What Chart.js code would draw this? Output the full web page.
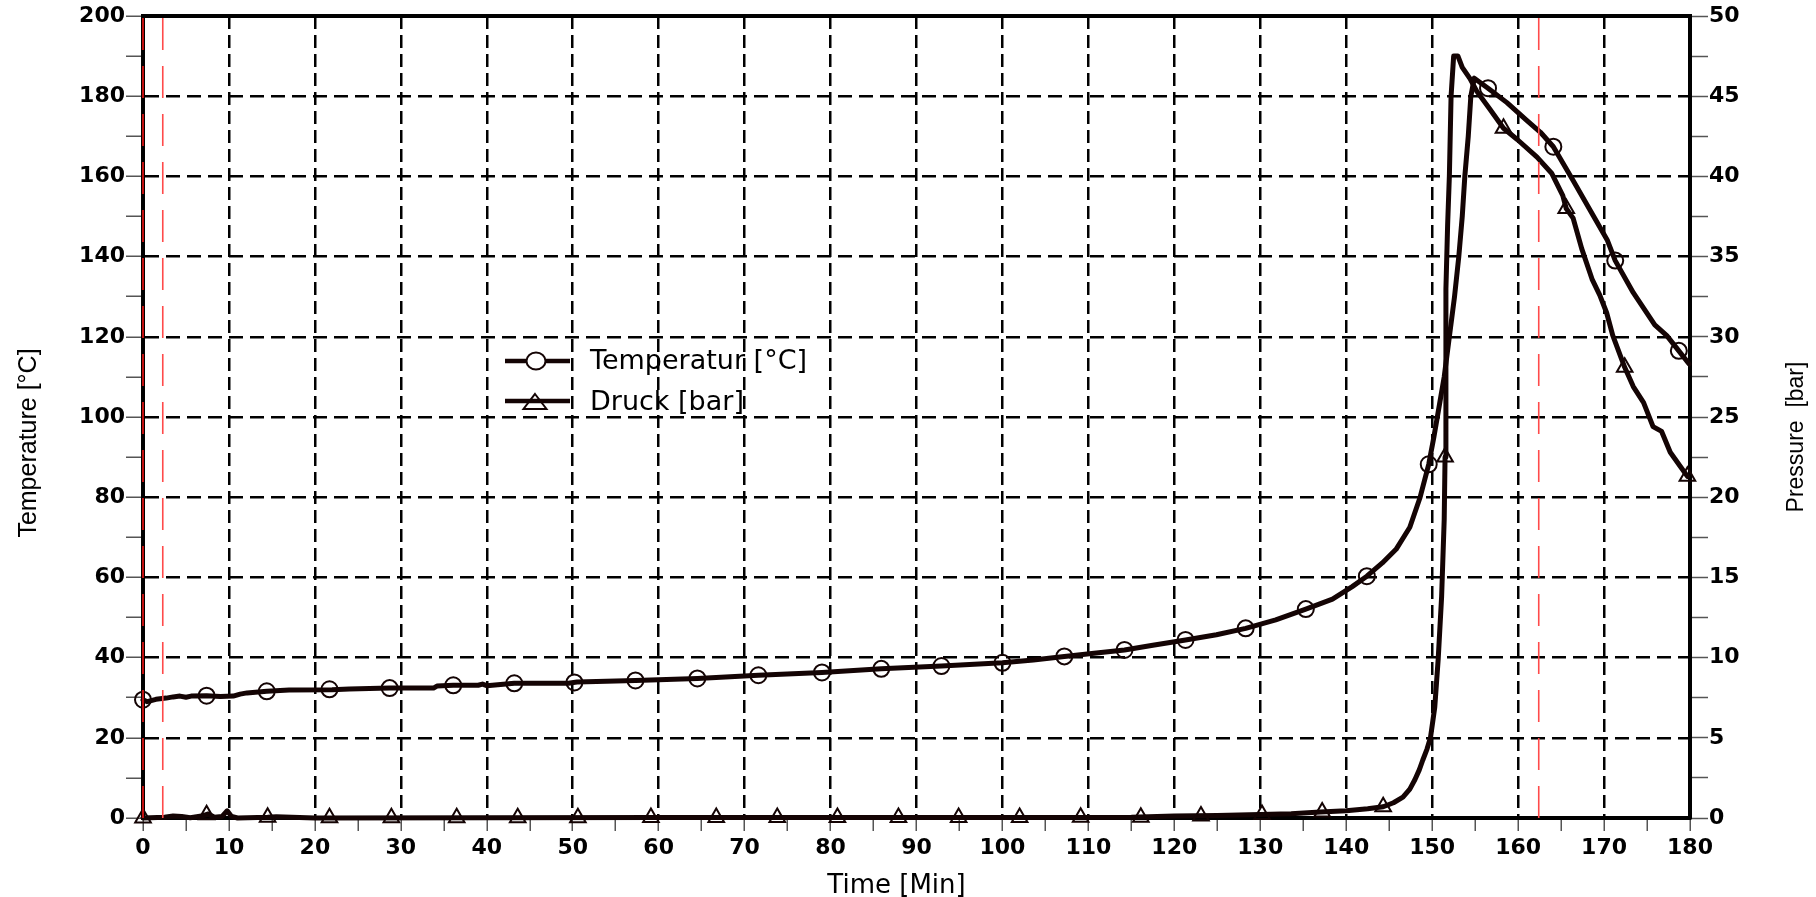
<!DOCTYPE html>
<html><head><meta charset="utf-8">
<script src="https://cdn.jsdelivr.net/npm/chart.js@4.4.1/dist/chart.umd.min.js"></script>
<style>html,body{margin:0;padding:0;background:#fff;}#wrap{position:relative;width:1816px;height:897px;}</style>
</head><body><div id="wrap"><canvas id="c"></canvas></div>
<script>
// ---- data ----
const tempTime = [0,0.5,1.5,2.7,3.5,4.3,5.0,5.6,7.4,9.0,10.5,11.3,12.1,14.4,17,22,24,28.7,33.8,34.2,36.1,39,39.5,40,43.2,49.5,50.5,57.3,64.5,71.6,79.0,85.9,92.9,100,103.6,107.2,111.2,114.2,117.5,121.3,124.9,128.3,131.8,135.3,138.4,140.7,142.4,144.2,145.8,147.4,148.6,149.6,150.2,150.6,151.4,152.0,152.6,153.1,153.5,153.8,154.2,154.5,154.9,156.5,158.7,161.0,162.6,164.1,166.4,168.8,170.4,171.3,173.4,175.9,177.3,178.7,179.9];
const tempValue = [29.5,29.0,29.6,29.9,30.2,30.4,30.1,30.4,30.5,30.3,30.4,30.9,31.2,31.6,31.9,32.0,32.2,32.4,32.4,32.9,33.1,33.1,33.4,33.0,33.6,33.6,33.9,34.3,34.8,35.6,36.3,37.2,37.9,38.7,39.4,40.3,41.2,41.9,43.1,44.4,45.7,47.3,49.4,52.1,54.6,57.7,60.3,63.6,67.0,72.5,80.0,88.2,95,100,110,120,130,140,150,160,170,180,184.5,182,178.4,174,171,167.4,159,150,144,139,131,123,120.3,116.5,113.2];
const tempMarkTime = [0,7.4,14.4,21.7,28.7,36.1,43.2,50.2,57.3,64.5,71.6,79.0,85.9,92.9,100.0,107.2,114.2,121.3,128.3,135.3,142.4,149.6,156.5,164.1,171.3,178.7];
const tempMarkValue = [29.5,30.5,31.6,32.1,32.4,33.1,33.6,33.8,34.3,34.8,35.6,36.3,37.2,37.9,38.7,40.3,41.9,44.4,47.3,52.1,60.3,88.2,182.0,167.4,139.0,116.5];
const presTime = [0,2.5,3.5,4.5,5.5,7.0,7.6,8.3,9.2,9.8,10.3,11,14.5,15.5,20,40,60,80,100,115,120,125,130,133.6,137,140,142.5,144.3,145.5,146.6,147.4,148.0,148.5,148.9,149.4,149.8,150.3,150.7,151.1,151.4,151.5,151.6,151.8,152.0,152.2,152.5,153.0,153.5,154.4,155.2,156.7,158.3,159.9,162.2,163.9,165.2,165.6,166.4,167.4,168.6,169.5,170.3,171.0,172.4,173.4,174.6,175.7,176.7,177.7,178.9,179.7];
const presValue = [0,0.05,0.12,0.1,0.02,0.15,0.25,0.05,0.1,0.45,0.1,0,0.05,0.08,0,0.02,0.03,0.03,0.03,0.05,0.12,0.15,0.22,0.27,0.37,0.45,0.58,0.7,0.95,1.3,1.8,2.4,3.0,3.6,4.3,5.0,6.9,9.9,13.8,18.6,22.5,33,37,40,45,47.5,47.5,46.8,46.1,45.3,44.2,43.0,42.3,41.2,40.2,38.8,38.0,37.4,35.5,33.6,32.6,31.5,30.1,28.1,26.9,25.9,24.4,24.1,22.8,21.9,21.3];
const presMarkTime = [0,7.4,14.5,21.7,28.9,36.5,43.6,50.6,59.1,66.7,73.8,80.8,87.9,94.9,102.0,109.1,116.1,123.1,130.2,137.2,144.3,151.5,158.3,165.6,172.4,179.7];
const presMarkValue = [0,0.2,0.05,0.02,0.02,0.02,0.02,0.02,0.03,0.03,0.03,0.03,0.03,0.03,0.03,0.04,0.05,0.13,0.22,0.37,0.7,22.5,43.0,38.0,28.1,21.3];
const redLineTimes = [0, 2.3, 162.4];
const xLabelTicks = [0,10,20,30,40,50,60,70,80,90,100,110,120,130,140,150,160,170,180];
const tempLabelTicks = [0,20,40,60,80,100,120,140,160,180,200];
const presLabelTicks = [0,5,10,15,20,25,30,35,40,45,50];
const seriesNames = ['Temperatur [°C]', 'Druck [bar]'];
const axisTitles = {x: 'Time [Min]', y: 'Temperature [°C]', y1: 'Pressure  [bar]'};

const zip = (xs, ys) => xs.map((x, i) => ({x, y: ys[i]}));
const INK = '#140404';

const datasets = [
  {data: zip(tempTime, tempValue), yAxisID: 'y', showLine: true, borderColor: INK, borderWidth: 5, pointRadius: 0, borderJoinStyle: 'round', borderCapStyle: 'round', clip: false, order: 2},
  {data: zip(presTime, presValue), yAxisID: 'y1', showLine: true, borderColor: INK, borderWidth: 5, pointRadius: 0, borderJoinStyle: 'round', borderCapStyle: 'round', clip: false, order: 2},
  {data: zip(tempMarkTime, tempMarkValue), yAxisID: 'y', showLine: false, pointStyle: 'circle', pointRadius: 8, pointBorderWidth: 2, pointBorderColor: INK, pointBackgroundColor: 'rgba(0,0,0,0)', clip: false, order: 1},
  {data: zip(presMarkTime, presMarkValue), yAxisID: 'y1', showLine: false, pointStyle: 'triangle', pointRadius: 9, pointBorderWidth: 2, pointBorderColor: INK, pointBackgroundColor: 'rgba(0,0,0,0)', clip: false, order: 1},
];
redLineTimes.forEach((t, i) => {
  datasets.push({data: [{x: t, y: 0}, {x: t, y: 200}], yAxisID: 'y', showLine: true,
    borderColor: i === 0 ? '#c01010' : '#ff4a4a', borderWidth: i === 0 ? 2 : 1.6, borderDash: [32, 16],
    pointRadius: 0, clip: false, order: 0});
});

const tickFont = {family: 'DejaVu Sans', size: 22, weight: 'bold', lineHeight: 1.2};
const gridCol = (labels) => (ctx) => (ctx.tick && labels.includes(ctx.tick.value)) ? '#000' : 'rgba(0,0,0,0)';

const decorPlugin = {
  id: 'decor',
  beforeDatasetsDraw(chart) {
    const {ctx, chartArea: a} = chart;
    ctx.save();
    ctx.strokeStyle = '#000'; ctx.lineWidth = 4;
    ctx.beginPath(); ctx.moveTo(a.left - 2, a.top); ctx.lineTo(a.right + 2, a.top); ctx.stroke();
    ctx.restore();
  },
  afterDraw(chart) {
    const {ctx, chartArea: a, width, height} = chart;
    ctx.save();
    ctx.fillStyle = '#000';
    // x title
    ctx.font = '26px "DejaVu Sans"';
    ctx.textAlign = 'center'; ctx.textBaseline = 'alphabetic';
    ctx.fillText(axisTitles.x, (a.left + a.right) / 2 - 20, height - 4);
    // left title
    ctx.font = '25px "Liberation Sans"';
    ctx.textBaseline = 'middle';
    ctx.save(); ctx.translate(29, (a.top + a.bottom) / 2 + 26); ctx.rotate(-Math.PI / 2);
    ctx.fillText(axisTitles.y, 0, 0); ctx.restore();
    // right title
    ctx.font = '23px "Liberation Sans"';
    ctx.save(); ctx.translate(width - 19, (a.top + a.bottom) / 2 + 20); ctx.rotate(-Math.PI / 2);
    ctx.fillText(axisTitles.y1, 0, 0); ctx.restore();
    // legend
    const lx = a.left + 362, ly = a.top + 345;
    ctx.strokeStyle = INK; ctx.lineWidth = 4.5; ctx.lineCap = 'butt';
    for (let r = 0; r < 2; r++) {
      const y = ly + r * 40;
      ctx.beginPath(); ctx.moveTo(lx, y); ctx.lineTo(lx + 65, y); ctx.stroke();
    }
    ctx.lineWidth = 2;
    ctx.fillStyle = '#fff';
    ctx.beginPath(); ctx.ellipse(lx + 31, ly, 9.5, 8.5, 0, 0, Math.PI * 2); ctx.fill(); ctx.stroke();
    const ty = ly + 40;
    ctx.beginPath(); ctx.moveTo(lx + 30, ty - 7); ctx.lineTo(lx + 41.5, ty + 8); ctx.lineTo(lx + 18.5, ty + 8); ctx.closePath(); ctx.stroke();
    ctx.fillStyle = '#000';
    ctx.font = '27px "DejaVu Sans"';
    ctx.textAlign = 'left'; ctx.textBaseline = 'alphabetic';
    ctx.fillText(seriesNames[0], lx + 85, ly + 8);
    ctx.fillText(seriesNames[1], lx + 85, ly + 49);
    ctx.restore();
  }
};

new Chart(document.getElementById('c'), {
  type: 'scatter',
  data: {datasets},
  plugins: [decorPlugin],
  options: {
    responsive: true, maintainAspectRatio: false, animation: false, devicePixelRatio: 1,
    layout: {padding: {top: 16, left: 0, right: 0, bottom: 0}},
    plugins: {legend: {display: false}, tooltip: {enabled: false}},
    scales: {
      x: {
        type: 'linear', min: 0, max: 180, position: 'bottom',
        afterFit: (s) => { s.height = 79; },
        ticks: {stepSize: 5, autoSkip: false, maxRotation: 0, padding: 4, color: '#000', font: tickFont,
          callback: (v) => xLabelTicks.includes(v) ? String(v) : ''},
        grid: {color: gridCol(xLabelTicks), lineWidth: 2.5, tickLength: 13, tickColor: '#555', tickWidth: 1.5},
        border: {display: true, color: '#000', width: 4, dash: [13, 6]}
      },
      y: {
        type: 'linear', min: 0, max: 200, position: 'left',
        afterFit: (s) => { s.width = 143; },
        ticks: {stepSize: 10, autoSkip: false, padding: 1, color: '#000', font: tickFont,
          callback: (v) => tempLabelTicks.includes(v) ? String(v) : ''},
        grid: {color: gridCol(tempLabelTicks), lineWidth: 2.5, tickLength: 17, tickColor: '#555', tickWidth: 1.5},
        border: {display: true, color: '#000', width: 4, dash: [14, 7]}
      },
      y1: {
        type: 'linear', min: 0, max: 50, position: 'right',
        afterFit: (s) => { s.width = 126; },
        ticks: {stepSize: 2.5, autoSkip: false, padding: 1, color: '#000', font: tickFont,
          callback: (v) => presLabelTicks.includes(v) ? String(v) : ''},
        grid: {drawOnChartArea: false, tickLength: 18, tickColor: '#555', tickWidth: 1.5},
        border: {display: true, color: '#000', width: 4}
      }
    }
  }
});
</script></body></html>
